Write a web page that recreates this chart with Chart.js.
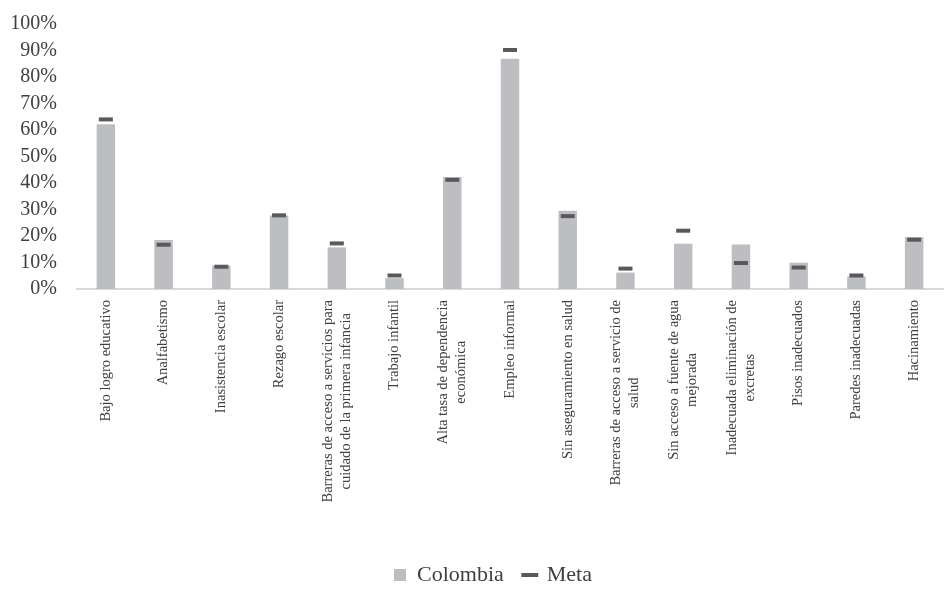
<!DOCTYPE html>
<html lang="es">
<head>
<meta charset="utf-8">
<title>Colombia y Meta</title>
<script src="https://cdn.jsdelivr.net/npm/chart.js@4.4.1/dist/chart.umd.min.js"></script>
<style>
  html, body { margin: 0; padding: 0; background: #fff; overflow: hidden; }
  .chart-container { position: relative; width: 954px; height: 591px; }
</style>
</head>
<body>
<div class="chart-container">
  <canvas id="chart"></canvas>
</div>
<script>
const categories = [
  'Bajo logro educativo',
  'Analfabetismo',
  'Inasistencia escolar',
  'Rezago escolar',
  ['Barreras de acceso a servicios para', 'cuidado de la primera infancia'],
  'Trabajo infantil',
  ['Alta tasa de dependencia', 'económica'],
  'Empleo informal',
  'Sin aseguramiento en salud',
  ['Barreras de acceso a servicio de', 'salud'],
  ['Sin acceso a fuente de agua', 'mejorada'],
  ['Inadecuada eliminación de', 'excretas'],
  'Pisos inadecuados',
  'Paredes inadecuadas',
  'Hacinamiento'
];

const colombia = [62.2, 18.5, 8.8, 27.7, 15.7, 4.1, 42.3, 86.9, 29.5, 6.2, 17.1, 16.8, 9.9, 4.7, 19.6];
const meta = [64.0, 16.7, 8.4, 27.8, 17.2, 5.1, 41.2, 90.2, 27.5, 7.7, 22.0, 9.8, 8.1, 5.1, 18.6];

const yTicks = [0, 10, 20, 30, 40, 50, 60, 70, 80, 90, 100];

const SERIF = '"Liberation Serif", "DejaVu Serif", serif';
const TEXT = '#404040';

// category names are drawn rotated, with each line centred on the longest one
const rotatedLabels = {
  id: 'rotatedLabels',
  afterDraw(chart) {
    const { ctx, chartArea } = chart;
    const x = chart.scales.x;
    ctx.save();
    ctx.font = '14.5px ' + SERIF;
    ctx.fillStyle = TEXT;
    ctx.textAlign = 'center';
    ctx.textBaseline = 'middle';
    categories.forEach((label, i) => {
      const lines = [].concat(label);
      const w = Math.max(...lines.map(l => ctx.measureText(l).width));
      ctx.save();
      ctx.translate(x.getPixelForValue(i), chartArea.bottom + 11);
      ctx.rotate(-Math.PI / 2);
      lines.forEach((line, j) => {
        ctx.fillText(line, -w / 2, (j - (lines.length - 1) / 2) * 18);
      });
      ctx.restore();
    });
    ctx.restore();
  }
};

// move the legend a little right and down from where the layout puts it
const legendShift = {
  id: 'legendShift',
  afterLayout(chart) {
    const lg = chart.legend;
    lg.left += 16;
    lg.right += 16;
    lg.top += 5;
    lg.bottom += 5;
  }
};

new Chart(document.getElementById('chart'), {
  data: {
    labels: categories,
    datasets: [
      {
        type: 'line',
        label: 'Meta',
        data: meta,
        showLine: false,
        pointStyle: 'line',
        pointRadius: 7,
        pointHoverRadius: 7,
        borderWidth: 4,
        pointBorderWidth: 4,
        borderColor: '#58595b',
        backgroundColor: '#58595b',
        order: 0
      },
      {
        type: 'bar',
        label: 'Colombia',
        data: colombia,
        backgroundColor: '#bdbec1',
        borderWidth: 0,
        barPercentage: 0.32,
        categoryPercentage: 1,
        pointStyle: 'rect',
        order: 1
      }
    ]
  },
  options: {
    responsive: true,
    maintainAspectRatio: false,
    animation: false,
    layout: { padding: { top: 3, left: 0, right: 0, bottom: 0 } },
    plugins: {
      tooltip: { enabled: false },
      legend: {
        position: 'bottom',
        reverse: true,
        labels: {
          usePointStyle: true,
          boxWidth: 12,
          boxHeight: 12,
          padding: 20,
          color: TEXT,
          font: { family: SERIF, size: 22 }
        }
      }
    },
    scales: {
      x: {
        grid: { display: true, drawOnChartArea: false, drawTicks: false },
        border: { display: true, color: '#d9d9d9', width: 2 },
        ticks: { display: false },
        afterFit(scale) { scale.height = 250; }
      },
      y: {
        min: 0,
        max: 100,
        grid: { display: false },
        border: { display: false },
        afterBuildTicks(scale) { scale.ticks = yTicks.map(v => ({ value: v })); },
        ticks: {
          autoSkip: false,
          padding: 12,
          color: TEXT,
          font: { family: SERIF, size: 20 },
          callback: v => v + '%'
        },
        afterFit(scale) { scale.width = 77; }
      }
    }
  },
  plugins: [rotatedLabels, legendShift]
});
</script>
</body>
</html>
